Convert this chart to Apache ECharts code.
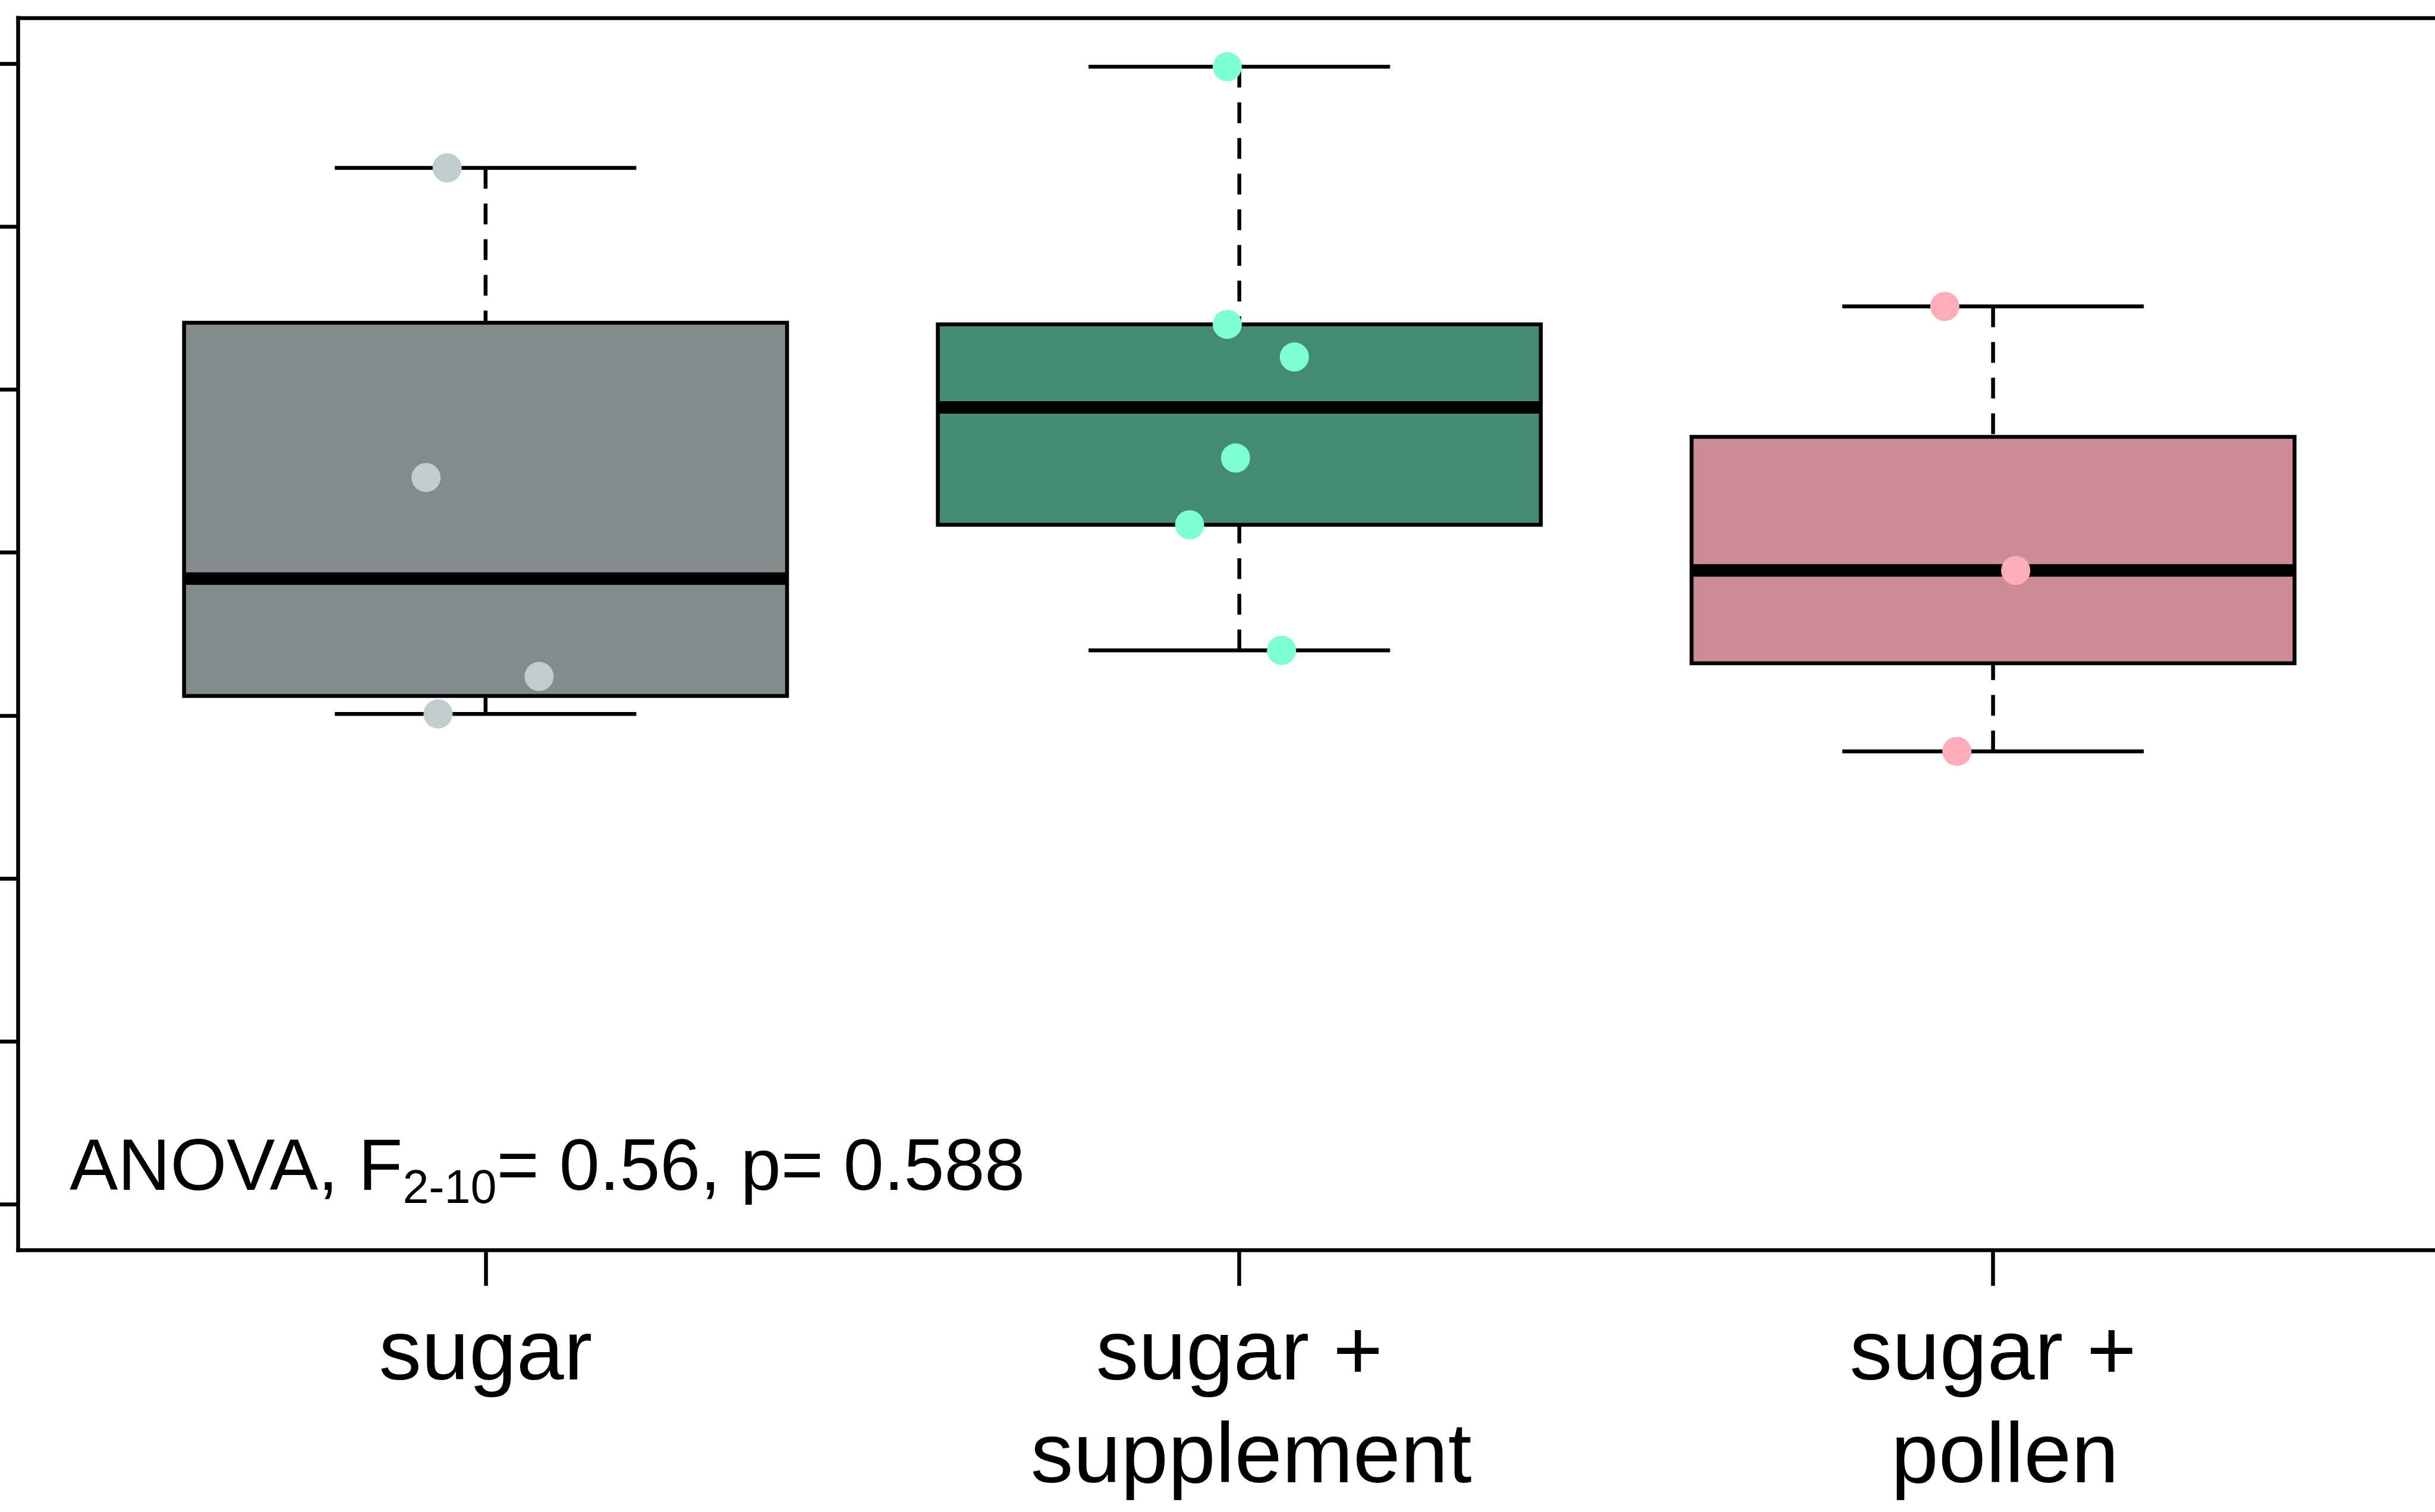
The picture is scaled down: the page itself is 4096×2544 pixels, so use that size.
<!DOCTYPE html>
<html>
<head>
<meta charset="utf-8">
<script src="https://cdn.jsdelivr.net/npm/echarts@6/dist/echarts.min.js"></script>
<style>
  html, body { margin: 0; padding: 0; background: #ffffff; }
  #chart { width: 4096px; height: 2544px; }
</style>
</head>
<body>
<div id="chart"></div>
<script>
// ---- data (y in the axis' tick units 0..7) ----
const categories = ['sugar', 'sugar +\n supplement', 'sugar +\n pollen'];
const categoryPositions = [1, 2, 3];
const yTicks = [0, 1, 2, 3, 4, 5, 6, 7];

// box statistics: [lower whisker, Q1, median, Q3, upper whisker]
const sugarBox = [3.01, 3.12, 3.84, 5.41, 6.36];
const supplementBox = [3.40, 4.17, 4.89, 5.40, 6.98];
const pollenBox = [2.78, 3.32, 3.89, 4.71, 5.51];

// raw points (x jittered around category position)
const sugarPtsX = [0.949, 0.921, 1.071, 0.937];
const sugarPtsY = [6.36, 4.46, 3.24, 3.01];
const supplementPtsX = [1.984, 1.984, 2.073, 1.995, 1.934, 2.056];
const supplementPtsY = [6.98, 5.40, 5.20, 4.58, 4.17, 3.40];
const pollenPtsX = [2.936, 3.030, 2.952];
const pollenPtsY = [5.51, 3.89, 2.78];

const anovaMain1 = 'ANOVA, F';
const anovaSub = '2-10';
const anovaMain2 = '= 0.56, p= 0.588';

// ---- styles ----
const boxColors = ['#838B8B', '#458B74', '#CD8C95'];
const pointColors = ['#C1CDCD', '#7FFFD4', '#FFAEB9'];
const LW = 6.5;
const FONT = 'Liberation Sans, Arial, Helvetica, sans-serif';

const boxData = [sugarBox, supplementBox, pollenBox].map((b, i) => [categoryPositions[i]].concat(b));
const zip = (xs, ys) => xs.map((x, i) => [x, ys[i]]);

const chart = echarts.init(document.getElementById('chart'), null, { renderer: 'canvas' });

const option = {
  animation: false,
  backgroundColor: '#ffffff',
  grid: { left: 30.7, top: 30.1, width: 4108, height: 2073.3, containLabel: false, outerBoundsMode: 'none' },
  xAxis: [
    {
      type: 'value', min: 0.38, max: 3.62, position: 'bottom',
      axisLine: { show: true, onZero: false, lineStyle: { color: '#000', width: LW, cap: 'square' } },
      axisTick: { show: true, customValues: categoryPositions, length: 60, lineStyle: { color: '#000', width: LW } },
      axisLabel: {
        show: true, customValues: categoryPositions, margin: 91,
        formatter: v => categories[Math.round(v) - 1],
        color: '#000', fontFamily: FONT, fontSize: 143.5, lineHeight: 173.6,
        align: 'center', verticalAlign: 'top'
      },
      splitLine: { show: false }
    },
    {
      type: 'value', min: 0.38, max: 3.62, position: 'top',
      axisLine: { show: true, onZero: false, lineStyle: { color: '#000', width: LW, cap: 'square' } },
      axisTick: { show: false }, axisLabel: { show: false }, splitLine: { show: false }
    }
  ],
  yAxis: {
    type: 'value', min: -0.28, max: 7.28,
    axisLine: { show: true, onZero: false, lineStyle: { color: '#000', width: LW, cap: 'square' } },
    axisTick: { show: true, customValues: yTicks, length: 60, lineStyle: { color: '#000', width: LW } },
    axisLabel: { show: false },
    splitLine: { show: false }
  },
  series: [
    {
      type: 'custom',
      xAxisIndex: 0,
      z: 2,
      data: boxData,
      renderItem: function (params, api) {
        const x = api.value(0);
        const lo = api.coord([x, api.value(1)]);
        const q1 = api.coord([x, api.value(2)]);
        const md = api.coord([x, api.value(3)]);
        const q3 = api.coord([x, api.value(4)]);
        const hi = api.coord([x, api.value(5)]);
        const bw = api.size([0.8, 0])[0];
        const cw = api.size([0.4, 0])[0];
        const dashStyle = { stroke: '#000', lineWidth: LW, lineDash: [35, 25], lineCap: 'butt', fill: null };
        const solid = { stroke: '#000', lineWidth: LW, lineCap: 'butt', fill: null };
        return {
          type: 'group',
          children: [
            { type: 'line', shape: { x1: hi[0], y1: hi[1], x2: q3[0], y2: q3[1] }, style: dashStyle },
            { type: 'line', shape: { x1: lo[0], y1: lo[1], x2: q1[0], y2: q1[1] }, style: dashStyle },
            { type: 'line', shape: { x1: hi[0] - cw / 2, y1: hi[1], x2: hi[0] + cw / 2, y2: hi[1] }, style: solid },
            { type: 'line', shape: { x1: lo[0] - cw / 2, y1: lo[1], x2: lo[0] + cw / 2, y2: lo[1] }, style: solid },
            { type: 'rect', shape: { x: q3[0] - bw / 2, y: q3[1], width: bw, height: q1[1] - q3[1] },
              style: { fill: boxColors[params.dataIndex], stroke: '#000', lineWidth: LW } },
            { type: 'line', shape: { x1: md[0] - bw / 2, y1: md[1], x2: md[0] + bw / 2, y2: md[1] },
              style: { stroke: '#000', lineWidth: 21, lineCap: 'butt' } }
          ]
        };
      }
    },
    { type: 'scatter', z: 5, symbol: 'circle', symbolSize: 49, data: zip(sugarPtsX, sugarPtsY),
      itemStyle: { color: pointColors[0], opacity: 1 } },
    { type: 'scatter', z: 5, symbol: 'circle', symbolSize: 49, data: zip(supplementPtsX, supplementPtsY),
      itemStyle: { color: pointColors[1], opacity: 1 } },
    { type: 'scatter', z: 5, symbol: 'circle', symbolSize: 49, data: zip(pollenPtsX, pollenPtsY),
      itemStyle: { color: pointColors[2], opacity: 1 } }
  ],
  graphic: [
    {
      type: 'text', left: 117, top: 1907, z: 10,
      style: {
        text: '{a|' + anovaMain1 + '}{s|' + anovaSub + '}{a|' + anovaMain2 + '}',
        verticalAlign: 'top',
        rich: {
          a: { fontFamily: FONT, fontSize: 122, lineHeight: 148, fill: '#000', verticalAlign: 'middle' },
          s: { fontFamily: FONT, fontSize: 79, lineHeight: 58, fill: '#000', verticalAlign: 'bottom' }
        }
      }
    }
  ]
};
chart.setOption(option);
</script>
</body>
</html>
